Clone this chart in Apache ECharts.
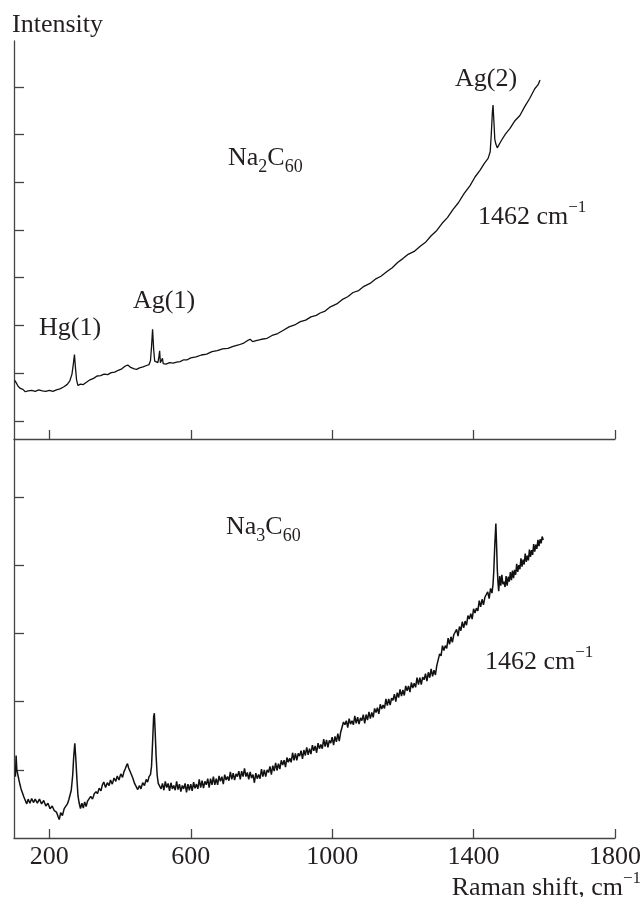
<!DOCTYPE html>
<html>
<head>
<meta charset="utf-8">
<script src="https://cdn.jsdelivr.net/npm/echarts@6.0.0/dist/echarts.min.js"></script>
<style>
html,body{margin:0;padding:0;background:#fff}
#main{width:643px;height:897px}
</style>
</head>
<body>
<div id="main"></div>
<script>
//Raman shift 刻度
var shiftTicks = [200, 600, 1000, 1400, 1800];
//上图 y 刻度
var topTicks = [0, 1, 2, 3, 4, 5, 6, 7];
//下图 y 刻度
var bottomTicks = [1, 2, 3, 4, 5];

//Na2C60 谱线 [shift, intensity]
var na2c60 = [
	[102,0.85],[106,0.80],[112,0.72],[118,0.68],[125,0.66],[132,0.61],[140,0.63],[150,0.64],[160,0.62],[170,0.65],
	[180,0.63],[190,0.62],[200,0.64],[210,0.62],[220,0.65],[230,0.67],[240,0.71],[250,0.76],[258,0.84],[264,0.98],
	[268,1.20],[271,1.39],[274,1.10],[277,0.86],[281,0.74],[288,0.77],[296,0.76],[305,0.81],[315,0.86],[325,0.89],
	[335,0.94],[345,0.95],[355,0.98],[365,0.97],[375,1.01],[385,1.02],[395,1.06],[405,1.09],[415,1.15],[422,1.17],
	[430,1.12],[440,1.09],[447,1.08],[455,1.11],[465,1.13],[475,1.16],[482,1.18],[486,1.26],[489,1.55],[492,1.92],
	[495,1.50],[498,1.25],[502,1.21],[507,1.22],[510,1.35],[512,1.47],[514,1.22],[517,1.20],[520,1.31],[522,1.20],
	[530,1.19],[540,1.22],[550,1.21],[560,1.23],[570,1.24],[580,1.28],[590,1.28],[600,1.32],[615,1.34],[630,1.38],
	[645,1.40],[660,1.45],[675,1.47],[690,1.51],[705,1.52],[720,1.56],[735,1.59],[750,1.63],[760,1.68],[768,1.71],
	[775,1.66],[785,1.68],[800,1.71],[816,1.73],[830,1.79],[846,1.83],[862,1.90],[878,1.97],[894,2.01],[910,2.08],
	[925,2.11],[940,2.18],[955,2.21],[966,2.26],[980,2.30],[995,2.39],[1013,2.45],[1028,2.54],[1044,2.60],[1059,2.69],
	[1075,2.73],[1090,2.82],[1107,2.88],[1122,2.97],[1138,3.03],[1155,3.13],[1170,3.21],[1185,3.32],[1200,3.40],[1215,3.49],
	[1232,3.55],[1249,3.66],[1265,3.75],[1280,3.88],[1296,3.99],[1311,4.14],[1326,4.26],[1342,4.43],[1357,4.57],[1373,4.76],
	[1390,4.93],[1404,5.11],[1418,5.25],[1430,5.39],[1441,5.50],[1447,5.64],[1450,6.00],[1453,6.45],[1455,6.62],[1458,6.20],
	[1460,5.90],[1463,5.80],[1467,5.72],[1471,5.76],[1479,5.88],[1490,6.01],[1503,6.13],[1517,6.29],[1531,6.40],[1545,6.59],
	[1559,6.76],[1573,6.96],[1582,7.04],[1588,7.14]
];

//Na3C60 谱线 [shift, intensity]
var na3c60 = [
	[104,0.90],[106,1.21],[108,1.00],[111,0.98],[114,0.85],[117,0.78],[120,0.72],[124,0.66],[128,0.60],[132,0.55],
	[136,0.50],[140,0.57],[145,0.51],[150,0.58],[155,0.52],[160,0.57],[166,0.51],[172,0.57],[178,0.50],[184,0.55],
	[190,0.47],[196,0.51],[202,0.43],[208,0.47],[214,0.40],[220,0.38],[225,0.31],[228,0.27],[232,0.37],[237,0.33],
	[242,0.43],[247,0.45],[251,0.50],[255,0.56],[258,0.62],[262,0.70],[266,0.92],[269,1.20],[272,1.39],[275,1.15],
	[278,0.86],[281,0.62],[284,0.52],[288,0.43],[292,0.51],[296,0.44],[300,0.53],[304,0.46],[308,0.54],[312,0.55],
	[317,0.61],[322,0.57],[327,0.65],[332,0.68],[336,0.65],[341,0.73],[346,0.69],[350,0.78],[354,0.82],[359,0.74],
	[364,0.81],[369,0.77],[373,0.85],[378,0.79],[383,0.88],[388,0.83],[392,0.91],[397,0.85],[402,0.94],[407,0.89],
	[411,0.97],[415,1.02],[418,1.06],[421,1.09],[424,1.03],[428,1.01],[432,0.93],[436,0.88],[441,0.80],[446,0.78],
	[450,0.71],[455,0.77],[459,0.72],[464,0.81],[469,0.77],[474,0.86],[478,0.82],[482,0.90],[486,0.93],[489,1.05],
	[492,1.40],[495,1.78],[497,1.83],[499,1.60],[502,1.20],[505,0.92],[508,0.80],[512,0.82],[516,0.72],[520,0.80],
	[524,0.70],[528,0.83],[532,0.74],[536,0.80],[540,0.69],[544,0.81],[548,0.72],[552,0.77],[556,0.70],[560,0.83],
	[564,0.71],[568,0.79],[572,0.68],[576,0.77],[580,0.72],[584,0.80],[588,0.67],[592,0.79],[596,0.70],[600,0.79],
	[604,0.69],[608,0.82],[612,0.73],[616,0.79],[620,0.72],[624,0.86],[628,0.74],[632,0.84],[636,0.73],[640,0.83],
	[644,0.78],[648,0.87],[652,0.74],[656,0.87],[660,0.78],[664,0.90],[668,0.78],[672,0.87],[676,0.78],[680,0.91],
	[684,0.83],[688,0.90],[692,0.79],[696,0.93],[700,0.85],[704,0.90],[708,0.84],[712,0.97],[716,0.86],[720,0.95],
	[724,0.85],[728,0.94],[732,0.90],[736,0.98],[740,0.86],[744,0.98],[748,0.90],[752,1.02],[756,0.90],[760,0.96],
	[764,0.86],[768,0.97],[772,0.88],[776,0.93],[780,0.81],[784,0.95],[788,0.87],[792,0.93],[796,0.87],[800,1.01],
	[804,0.90],[808,1.00],[812,0.90],[816,1.00],[820,0.96],[824,1.05],[828,0.93],[832,1.06],[836,0.98],[840,1.10],
	[844,0.99],[848,1.09],[852,1.01],[856,1.14],[860,1.07],[864,1.14],[868,1.04],[872,1.18],[876,1.11],[880,1.17],
	[884,1.11],[888,1.25],[892,1.14],[896,1.24],[900,1.14],[904,1.24],[908,1.20],[912,1.28],[916,1.16],[920,1.29],
	[924,1.21],[928,1.33],[932,1.22],[936,1.31],[940,1.23],[944,1.36],[948,1.28],[952,1.35],[956,1.25],[960,1.39],
	[964,1.31],[968,1.37],[972,1.31],[976,1.45],[980,1.34],[984,1.44],[988,1.33],[992,1.43],[996,1.39],[1000,1.48],
	[1004,1.36],[1008,1.49],[1012,1.41],[1016,1.53],[1020,1.42],[1024,1.55],[1028,1.54],[1032,1.70],[1036,1.66],[1040,1.72],
	[1044,1.62],[1048,1.75],[1052,1.67],[1056,1.72],[1060,1.66],[1064,1.79],[1068,1.68],[1072,1.77],[1076,1.67],[1080,1.76],
	[1084,1.72],[1088,1.81],[1092,1.68],[1096,1.81],[1100,1.73],[1104,1.85],[1108,1.75],[1112,1.84],[1116,1.77],[1120,1.90],
	[1124,1.84],[1128,1.91],[1132,1.82],[1136,1.96],[1140,1.89],[1144,1.95],[1148,1.90],[1152,2.04],[1156,1.94],[1160,2.04],
	[1164,1.95],[1168,2.05],[1172,2.02],[1176,2.11],[1180,2.00],[1184,2.13],[1188,2.06],[1192,2.18],[1196,2.08],[1200,2.17],
	[1204,2.09],[1208,2.23],[1212,2.16],[1216,2.23],[1220,2.14],[1224,2.28],[1228,2.20],[1232,2.27],[1236,2.21],[1240,2.35],
	[1244,2.25],[1248,2.35],[1252,2.25],[1256,2.36],[1260,2.32],[1264,2.41],[1268,2.30],[1272,2.43],[1276,2.35],[1280,2.48],
	[1284,2.37],[1288,2.46],[1292,2.39],[1296,2.53],[1300,2.54],[1304,2.70],[1308,2.67],[1312,2.82],[1316,2.75],[1320,2.82],
	[1324,2.78],[1328,2.93],[1332,2.84],[1336,2.95],[1340,2.87],[1344,2.98],[1348,2.96],[1352,3.06],[1356,2.96],[1360,3.10],
	[1364,3.04],[1368,3.17],[1372,3.08],[1376,3.18],[1380,3.12],[1384,3.26],[1388,3.21],[1392,3.29],[1396,3.21],[1400,3.36],
	[1404,3.30],[1408,3.37],[1412,3.33],[1416,3.48],[1420,3.39],[1424,3.50],[1428,3.42],[1432,3.53],[1436,3.51],[1440,3.61],
	[1444,3.51],[1448,3.66],[1452,3.59],[1455,3.72],[1457,3.90],[1460,4.30],[1463,4.61],[1465,4.30],[1467,3.95],[1469,3.75],
	[1471,3.62],[1474,3.84],[1477,3.70],[1480,3.86],[1483,3.72],[1486,3.76],[1489,3.68],[1492,3.84],[1495,3.70],[1498,3.83],
	[1501,3.76],[1504,3.90],[1507,3.78],[1510,3.92],[1513,3.81],[1516,3.93],[1519,3.86],[1522,4.02],[1525,3.90],[1528,4.00],
	[1531,3.94],[1534,4.10],[1537,3.98],[1540,4.08],[1543,4.01],[1546,4.17],[1549,4.05],[1552,4.14],[1555,4.07],[1558,4.23],
	[1561,4.12],[1564,4.22],[1567,4.15],[1570,4.31],[1573,4.20],[1576,4.30],[1579,4.24],[1582,4.37],[1585,4.28],[1588,4.38],
	[1591,4.32],[1594,4.42],[1597,4.37]
];

var FONT = "'Liberation Serif', 'DejaVu Serif', serif";
var INK = '#231f20';
var AXIS = '#444';

//富文本样式: 下标/上标
var rich = {
	n: {fontFamily: FONT, fontSize: 26, color: INK, lineHeight: 36},
	b: {fontFamily: FONT, fontSize: 18, color: INK, lineHeight: 18, verticalAlign: 'bottom'},
	p: {fontFamily: FONT, fontSize: 17, color: INK, lineHeight: 18, verticalAlign: 'top'}
};

function label(text, x, y, align) {
	return {
		type: 'text',
		x: x,
		y: y,
		style: {
			text: text,
			rich: rich,
			fill: INK,
			font: '26px ' + FONT,
			align: align || 'left',
			verticalAlign: 'middle'
		}
	};
}

function xAxisOf(gridIndex, showLabel) {
	return {
		type: 'value',
		gridIndex: gridIndex,
		min: 100,
		max: 1800,
		axisLine: {onZero: false, lineStyle: {color: AXIS, width: 1.3}},
		axisTick: {inside: true, length: 9, customValues: shiftTicks, lineStyle: {color: AXIS, width: 1.3}},
		axisLabel: {
			show: showLabel,
			customValues: shiftTicks,
			margin: 6,
			fontFamily: FONT,
			fontSize: 26,
			color: INK,
			formatter: function(v) {
				return String(v);
			}
		},
		splitLine: {show: false}
	};
}

function yAxisOf(gridIndex, min, max, ticks) {
	return {
		type: 'value',
		gridIndex: gridIndex,
		min: min,
		max: max,
		axisLine: {show: true, onZero: false, lineStyle: {color: AXIS, width: 1.3}},
		axisTick: {show: true, inside: true, length: 10, customValues: ticks, lineStyle: {color: AXIS, width: 1.3}},
		axisLabel: {show: false},
		splitLine: {show: false}
	};
}

var chart = echarts.init(document.getElementById('main'), null, {renderer: 'canvas'});
var option = {
	animation: false,
	backgroundColor: '#fff',
	grid: [
		{left: 14, top: 41, width: 601, height: 398, outerBoundsMode: 'none'},
		{left: 14, top: 439, width: 601, height: 399, outerBoundsMode: 'none'}
	],
	xAxis: [xAxisOf(0, false), xAxisOf(1, true)],
	yAxis: [yAxisOf(0, -0.38, 7.96, topTicks), yAxisOf(1, 0, 5.85, bottomTicks)],
	series: [
		{
			name: 'Na2C60',
			type: 'line',
			xAxisIndex: 0,
			yAxisIndex: 0,
			data: na2c60,
			showSymbol: false,
			lineStyle: {color: '#111', width: 1.3}
		},
		{
			name: 'Na3C60',
			type: 'line',
			xAxisIndex: 1,
			yAxisIndex: 1,
			data: na3c60,
			showSymbol: false,
			lineStyle: {color: '#111', width: 1.5}
		}
	],
	graphic: [
		label('{n|Intensity}', 12, 25),
		label('{n|Na}{b|2}{n|C}{b|60}', 228, 158),
		label('{n|Hg(1)}', 39, 328),
		label('{n|Ag(1)}', 133, 301),
		label('{n|Ag(2)}', 455, 79),
		label('{n|1462 cm}{p|\u22121}', 478, 217),
		label('{n|Na}{b|3}{n|C}{b|60}', 226, 527),
		label('{n|1462 cm}{p|\u22121}', 485, 662),
		label('{n|Raman shift, cm}{p|\u22121}', 641, 888, 'right')
	]
};
chart.setOption(option);
</script>
</body>
</html>
